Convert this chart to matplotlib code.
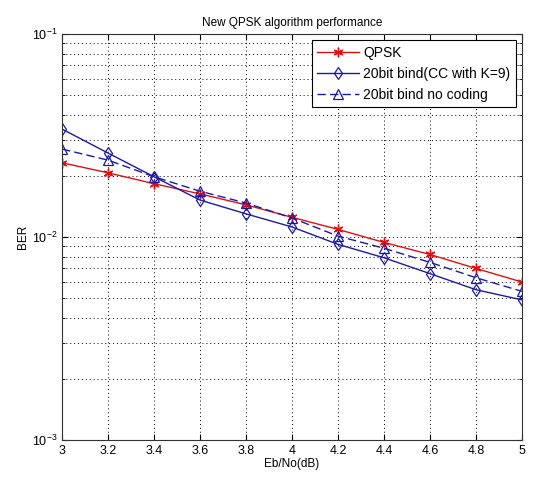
import matplotlib
matplotlib.use("Agg")
import matplotlib.pyplot as plt
from matplotlib.ticker import LogLocator, NullFormatter, FixedLocator

ebno = [3.0, 3.2, 3.4, 3.6, 3.8, 4.0, 4.2, 4.4, 4.6, 4.8, 5.0]
ber_qpsk = [0.0232, 0.0207, 0.0183, 0.0163, 0.0144, 0.0125, 0.0109, 0.0094, 0.0082, 0.0070, 0.0060]
ber_cc = [0.0340, 0.0259, 0.0198, 0.0152, 0.0130, 0.0112, 0.0092, 0.0079, 0.0066, 0.0055, 0.0049]
ber_nocode = [0.0271, 0.0239, 0.0198, 0.0168, 0.0147, 0.0124, 0.0101, 0.0088, 0.0075, 0.0063, 0.0054]
labels = ["QPSK", "20bit bind(CC with K=9)", "20bit bind no coding"]
xticks = [3, 3.2, 3.4, 3.6, 3.8, 4, 4.2, 4.4, 4.6, 4.8, 5]
xticklabels = ["3", "3.2", "3.4", "3.6", "3.8", "4", "4.2", "4.4", "4.6", "4.8", "5"]

plt.rcParams['font.family'] = ['Liberation Sans', 'DejaVu Sans']

fig = plt.figure(figsize=(5.54, 4.78), dpi=100)
ax = fig.add_axes([0.112, 0.0795, 0.830, 0.8495])

red = '#e01010'
blue = '#1a1aa8'
ax.plot(ebno, ber_qpsk, color=red, marker=(6, 2, 0), markersize=7, mew=1.0, lw=1.0, label=labels[0])
ax.plot(ebno, ber_cc, color=blue, marker='d', markersize=6.5, mfc='none', mew=0.9, lw=1.0, label=labels[1])
ax.plot(ebno, ber_nocode, color=blue, marker='^', markersize=6.5, mfc='none', mew=0.9, lw=1.0,
        ls=(0, (6, 3)), label=labels[2])

ax.set_yscale('log')
ax.set_ylim(1e-3, 1e-1)
ax.set_xlim(3, 5)
ax.set_xticks(xticks)
ax.set_xticklabels(xticklabels)
ax.yaxis.set_major_locator(FixedLocator([1e-3, 1e-2, 1e-1]))
ax.yaxis.set_minor_locator(LogLocator(base=10, subs=range(2, 10)))
ax.yaxis.set_minor_formatter(NullFormatter())

ax.grid(True, which='major', axis='both', color='black', ls=(0, (1, 3)), lw=0.7)
ax.grid(True, which='minor', axis='y', color='black', ls=(0, (1, 3)), lw=0.7)
ax.tick_params(which='both', direction='in', top=True, right=True, labelsize=9)
ax.tick_params(which='major', length=4)
ax.tick_params(which='minor', length=2)
for s in ax.spines.values():
    s.set_linewidth(0.8)
    s.set_color('#333333')

ax.set_title("New QPSK algorithm performance", fontsize=8.5, pad=6)
ax.set_xlabel("Eb/No(dB)", fontsize=8.5, labelpad=1)
ax.set_ylabel("BER", fontsize=8.5, labelpad=2)

leg = ax.legend(loc='upper right', fontsize=10, frameon=True, fancybox=False,
                edgecolor='black', framealpha=1, borderpad=0.4, handlelength=3,
                handletextpad=0.3, labelspacing=0.5, borderaxespad=0.45)
leg.get_frame().set_linewidth(0.8)

fig.savefig("out.png", dpi=100, facecolor='white')
